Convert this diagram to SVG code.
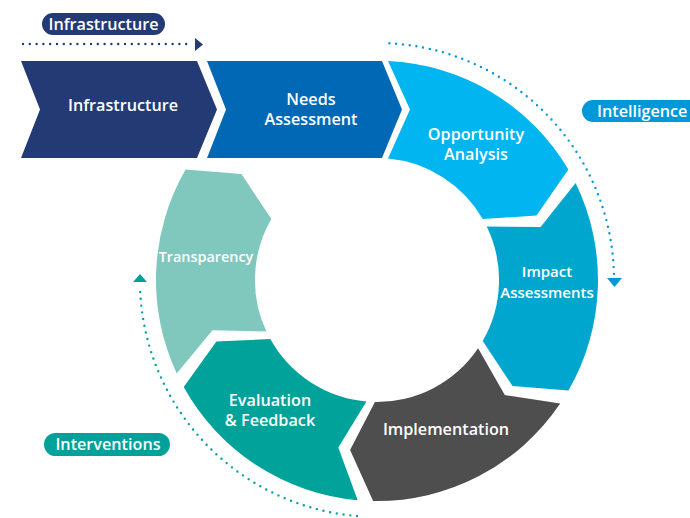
<svg xmlns="http://www.w3.org/2000/svg" width="690" height="518" viewBox="0 0 690 518">
<style>
text{font-family:"Open Sans","Liberation Sans",sans-serif;font-weight:600;font-size:16.2px;fill:#fff;text-anchor:middle}
.dot{fill:none;stroke-width:2.4;stroke-linecap:round;stroke-dasharray:0 6.8}
</style>
<rect width="690" height="518" fill="#fff"/>
<g id="connectors">
  <path class="dot" stroke="#243a75" d="M23,44 H192"/>
  <polygon fill="#243a75" points="195,38 203,44.5 195,51"/>
  <path class="dot" stroke="#0098d8" d="M389.4,43.3 A237 237 0 0 1 614,276"/>
  <polygon fill="#0098d8" points="607,278 622,278 614.5,287"/>
  <path class="dot" stroke="#00a19a" d="M357,516 A237 237 0 0 1 140,287"/>
  <polygon fill="#00a19a" points="133,282 147,282 140,274"/>
</g>
<g id="label-infrastructure">
  <rect x="42" y="13" width="123" height="22" rx="11" fill="#243a75"/>
  <text x="103.5" y="30">Infrastructure</text>
</g>
<g id="label-intelligence">
  <rect x="582" y="100" width="130" height="22" rx="11" fill="#0098d8"/>
  <text x="597" y="116.5" style="text-anchor:start">Intelligence</text>
</g>
<g id="label-interventions">
  <rect x="44" y="433" width="126" height="23" rx="11.5" fill="#00a19a"/>
  <text x="108" y="450">Interventions</text>
</g>
<g id="infrastructure">
  <polygon fill="#243a75" points="21,61 197,61 217,109.5 197,158 21,158 40,109.5"/>
  <text x="123" y="111">Infrastructure</text>
</g>
<g id="needs-assessment">
  <polygon fill="#0068b4" points="207,61 382,61 402,109.5 382,158 207,158 226,109.5"/>
  <text x="311" y="105">Needs</text>
  <text x="311" y="125">Assessment</text>
</g>
<g id="opportunity-analysis">
  <path fill="#00b5f0" d="M388,61 A221 221 0 0 1 568.4,169.5 L536.5,215.6 L482.7,219 A122 122 0 0 0 388,158.5 L410,109.5 Z"/>
  <text x="476" y="140">Opportunity</text>
  <text x="476" y="160">Analysis</text>
</g>
<g id="impact-assessments">
  <path fill="#00a6cd" d="M575.6,183.1 A221 221 0 0 1 568.4,390.5 L512.5,385.9 L482.7,341 A122 122 0 0 0 486.7,226.5 L540.6,226.9 Z"/>
  <text x="547" y="277" style="font-size:15px">Impact</text>
  <text x="547" y="298" style="font-size:15px">Assessments</text>
</g>
<g id="implementation">
  <path fill="#4e4e4e" d="M560.2,403.6 A221 221 0 0 1 373.1,501 L350.1,449.9 L374.9,402 A122 122 0 0 0 478.1,348.2 L504.8,395.1 Z"/>
  <text x="446" y="435">Implementation</text>
</g>
<g id="evaluation-feedback">
  <path fill="#00a29a" d="M357.7,500.2 A221 221 0 0 1 183.7,387.1 L216.4,341.6 L270.3,339.1 A122 122 0 0 0 366.4,401.5 L338.3,447.6 Z"/>
  <text x="270" y="406">Evaluation</text>
  <text x="270" y="426">&amp; Feedback</text>
</g>
<g id="transparency">
  <path fill="#80c8bd" d="M176.7,373.4 A221 221 0 0 1 185.6,169.5 L241.5,174.1 L271.3,219 A122 122 0 0 0 266.4,331.6 L212.5,330.3 Z"/>
  <text x="206" y="262" style="font-size:14.4px">Transparency</text>
</g>
</svg>
